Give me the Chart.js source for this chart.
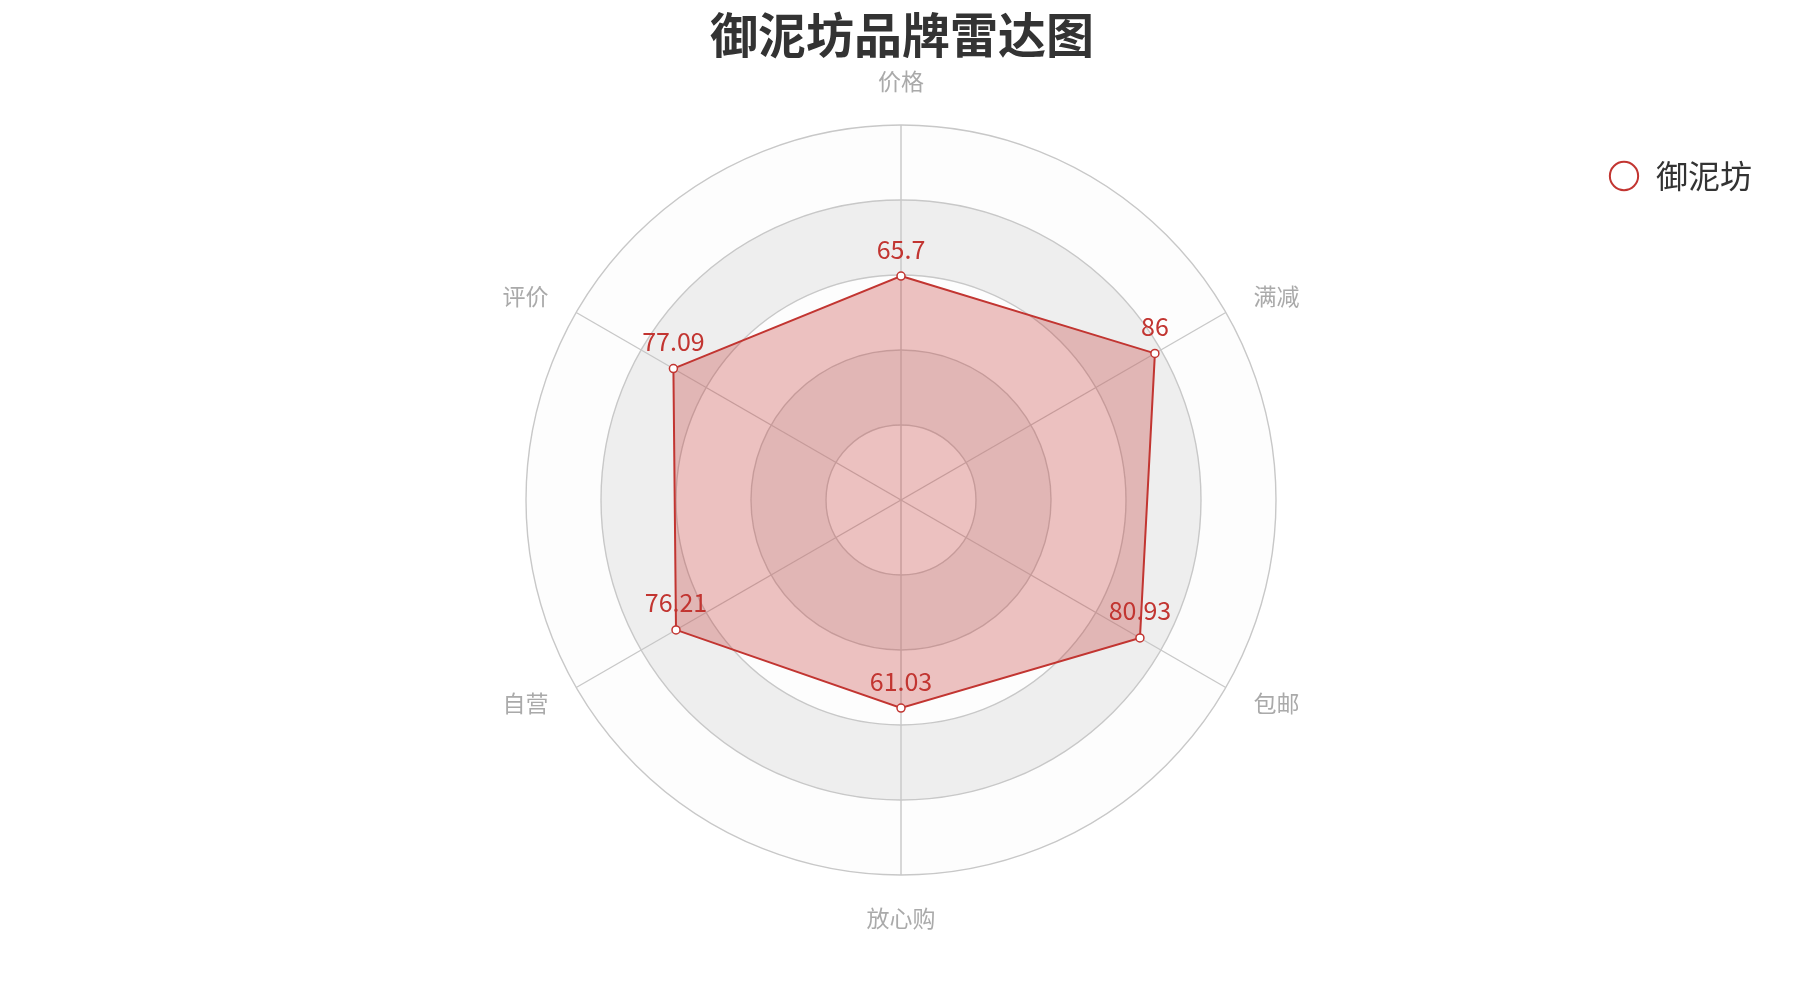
<!DOCTYPE html>
<html>
<head>
<meta charset="utf-8">
<script src="https://cdn.jsdelivr.net/npm/chart.js@4.4.1/dist/chart.umd.min.js"></script>
<style>
  body { margin: 0; background: #fff; }
  #wrap { width: 1800px; height: 1000px; }
</style>
</head>
<body>
<div id="wrap"><canvas id="radar" width="1800" height="1000"></canvas></div>
<script>
// data
var titleText = '御泥坊品牌雷达图'
var seriesName = '御泥坊'
var indicators = ['价格', '满减', '包邮', '放心购', '自营', '评价']
var values = [65.7, 86, 80.93, 61.03, 76.21, 77.09]
var axisMax = 110
var axisStep = 22

var red = '#c23531'
var ringColors = ['rgba(250,250,250,0.3)', 'rgba(200,200,200,0.3)']
var cjk = '"Noto Sans CJK SC", "Noto Sans", sans-serif'

// alternating rings behind the grid, sized from the radial scale
const splitArea = {
  id: 'splitArea',
  beforeDraw(chart) {
    const scale = chart.scales.r
    const ctx = chart.ctx
    const ticks = scale.ticks
    ctx.save()
    for (var i = 0; i < ticks.length - 1; i++) {
      const r0 = scale.getDistanceFromCenterForValue(ticks[i].value)
      const r1 = scale.getDistanceFromCenterForValue(ticks[i + 1].value)
      ctx.beginPath()
      ctx.arc(scale.xCenter, scale.yCenter, r1, 0, Math.PI * 2, false)
      ctx.arc(scale.xCenter, scale.yCenter, r0, 0, Math.PI * 2, true)
      ctx.fillStyle = ringColors[i % 2]
      ctx.fill()
    }
    ctx.restore()
  }
}

// indicator names round the outer ring, vertically centred like the original
const axisNames = {
  id: 'axisNames',
  afterDraw(chart) {
    const scale = chart.scales.r
    const ctx = chart.ctx
    const gap = 32
    ctx.save()
    ctx.font = '23px ' + cjk
    ctx.fillStyle = '#aaa'
    chart.data.labels.forEach((name, i) => {
      const p = scale.getPointPosition(i, scale.drawingArea + gap)
      const deg = Math.round(scale.getIndexAngle(i) * 180 / Math.PI) % 360
      if (deg === 0) {
        ctx.textAlign = 'center'; ctx.textBaseline = 'bottom'
      } else if (deg === 180) {
        ctx.textAlign = 'center'; ctx.textBaseline = 'top'
      } else {
        ctx.textAlign = deg < 180 ? 'left' : 'right'
        ctx.textBaseline = 'middle'
      }
      ctx.fillText(name, p.x, p.y)
    })
    ctx.restore()
  }
}

// value text above each point
const valueLabels = {
  id: 'valueLabels',
  afterDatasetsDraw(chart) {
    const ctx = chart.ctx
    chart.data.datasets.forEach((ds, di) => {
      const meta = chart.getDatasetMeta(di)
      ctx.save()
      ctx.font = '25px ' + cjk
      ctx.fillStyle = red
      ctx.textAlign = 'center'
      ctx.textBaseline = 'middle'
      meta.data.forEach((pt, i) => {
        ctx.fillText(String(ds.data[i]), pt.x, pt.y - 27)
      })
      ctx.restore()
    })
  }
}

const ctx = document.getElementById('radar')

new Chart(ctx, {
  type: 'radar',
  data: {
    labels: indicators,
    datasets: [{
      label: seriesName,
      data: values,
      borderColor: red,
      borderWidth: 2,
      backgroundColor: 'rgba(194,53,49,0.3)',
      fill: true,
      pointRadius: 4,
      pointBorderWidth: 1.5,
      pointBorderColor: red,
      pointBackgroundColor: '#fff'
    }]
  },
  options: {
    responsive: false,
    animation: false,
    devicePixelRatio: 1,
    layout: {
      padding: { left: 356, right: 38, top: 0, bottom: 125 }
    },
    scales: {
      r: {
        min: 0,
        max: axisMax,
        ticks: { display: false, stepSize: axisStep },
        grid: { circular: true, color: '#c8c8c8', lineWidth: 1.4 },
        angleLines: { color: '#c8c8c8', lineWidth: 1.4 },
        pointLabels: { display: false }
      }
    },
    plugins: {
      title: {
        display: true,
        text: titleText,
        fullSize: false,
        color: '#333',
        font: { size: 48, weight: 'bold', family: cjk },
        padding: { top: 6, bottom: 61.4 }
      },
      legend: {
        position: 'right',
        align: 'start',
        labels: {
          usePointStyle: true,
          boxWidth: 38,
          boxHeight: 20,
          padding: 160,
          color: '#333',
          font: { size: 32, family: cjk },
          generateLabels(chart) {
            return Chart.defaults.plugins.legend.labels.generateLabels(chart).map(item => {
              item.fillStyle = '#fff'
              item.strokeStyle = red
              item.lineWidth = 2
              item.pointStyle = 'circle'
              return item
            })
          }
        }
      },
      tooltip: { enabled: false }
    }
  },
  plugins: [splitArea, axisNames, valueLabels]
})
</script>
</body>
</html>
